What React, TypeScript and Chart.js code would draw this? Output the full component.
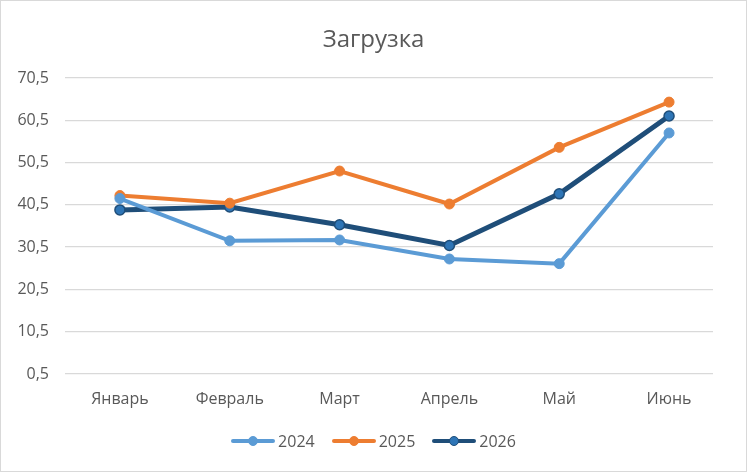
import React, { useEffect, useRef } from "react";
import Chart from "chart.js/auto";

const months = ["Январь", "Февраль", "Март", "Апрель", "Май", "Июнь"];
const load2024 = [42.0, 32.0, 32.2, 27.7, 26.6, 57.5];
const load2025 = [42.7, 40.9, 48.5, 40.7, 54.1, 64.8];
const load2026 = [39.3, 40.0, 35.8, 30.9, 43.1, 61.5];
const yMin = 0.5;
const yMax = 70.5;
const yStep = 10;

const FONT = "'Open Sans', sans-serif";
const TEXT = "#595959";

const legendItems = [
  { label: "2024", line: "#5B9BD5", dot: "#5B9BD5", ring: "#5B9BD5" },
  { label: "2025", line: "#ED7D31", dot: "#ED7D31", ring: "#ED7D31" },
  { label: "2026", line: "#1F4E79", dot: "#2E75B6", ring: "#1F4E79" },
];

// months are placed by index on a linear x scale
const toPoints = (vals: number[]) => vals.map((y, i) => ({ x: i, y }));

const App = () => {
  const canvasRef = useRef<HTMLCanvasElement>(null);

  useEffect(() => {
    const ctx = canvasRef.current?.getContext("2d");
    if (!ctx) return;

    const chart = new Chart(ctx, {
      type: "line",
      data: {
        datasets: [
          {
            label: "2024",
            data: toPoints(load2024),
            borderColor: "#5B9BD5",
            backgroundColor: "#5B9BD5",
            pointBackgroundColor: "#5B9BD5",
            pointBorderColor: "#5B9BD5",
            borderWidth: 4,
            pointRadius: 5,
            pointBorderWidth: 1,
          },
          {
            label: "2025",
            data: toPoints(load2025),
            borderColor: "#ED7D31",
            backgroundColor: "#ED7D31",
            pointBackgroundColor: "#ED7D31",
            pointBorderColor: "#ED7D31",
            borderWidth: 4,
            pointRadius: 5,
            pointBorderWidth: 1,
          },
          {
            label: "2026",
            data: toPoints(load2026),
            borderColor: "#1F4E79",
            backgroundColor: "#2E75B6",
            pointBackgroundColor: "#2E75B6",
            pointBorderColor: "#1F4E79",
            borderWidth: 5,
            pointRadius: 5,
            pointBorderWidth: 1.5,
          },
        ],
      },
      options: {
        animation: false,
        responsive: false,
        maintainAspectRatio: false,
        layout: { padding: { left: 0, right: 33, top: 77, bottom: 57 } },
        plugins: {
          legend: { display: false },
          tooltip: { enabled: false },
          title: { display: false },
        },
        scales: {
          x: {
            type: "linear",
            min: -0.5,
            max: 5.4,
            grid: { display: false, drawTicks: false },
            border: { display: false },
            afterBuildTicks: (s: any) => {
              s.ticks = months.map((_, i) => ({ value: i }));
            },
            afterFit: (s: any) => {
              s.height = 40;
            },
            ticks: {
              color: TEXT,
              font: { family: FONT, size: 16 },
              padding: 16,
              maxRotation: 0,
              autoSkip: false,
              callback: (v: any) => months[Math.round(Number(v))] ?? "",
            },
          },
          y: {
            min: yMin,
            max: yMax,
            grid: { color: "#d9d9d9", lineWidth: 1.3, drawTicks: false },
            border: { display: false },
            afterFit: (s: any) => {
              s.width = 64;
            },
            ticks: {
              stepSize: yStep,
              color: TEXT,
              font: { family: FONT, size: 16 },
              padding: 16,
              callback: (v: any) => Number(v).toFixed(1).replace(".", ","),
            },
          },
        },
      },
    });

    return () => chart.destroy();
  }, []);

  return (
    <div
      style={{
        position: "fixed",
        left: 0,
        top: 0,
        width: 747,
        height: 472,
        boxSizing: "border-box",
        border: "1px solid #d9d9d9",
        background: "#fff",
        overflow: "hidden",
      }}
    >
      <div
        style={{
          position: "absolute",
          left: 0,
          right: 0,
          top: 22,
          textAlign: "center",
          fontFamily: FONT,
          fontSize: 24,
          lineHeight: "29px",
          color: TEXT,
        }}
      >
        Загрузка
      </div>
      <canvas
        ref={canvasRef}
        width={745}
        height={470}
        style={{ width: 745, height: 470, display: "block" }}
      />
      <div
        style={{
          position: "absolute",
          left: 0,
          right: 0,
          top: 430,
          display: "flex",
          justifyContent: "center",
          gap: 17,
          fontFamily: FONT,
          fontSize: 16,
          color: TEXT,
          lineHeight: "20px",
        }}
      >
        {legendItems.map((it) => (
          <div key={it.label} style={{ display: "flex", alignItems: "center" }}>
            <div style={{ position: "relative", width: 44, height: 10, marginRight: 3 }}>
              <div
                style={{
                  position: "absolute",
                  left: 0,
                  right: 0,
                  top: 3,
                  height: 4,
                  borderRadius: 2,
                  background: it.line,
                }}
              />
              <div
                style={{
                  position: "absolute",
                  left: 17,
                  top: 0,
                  width: 10,
                  height: 10,
                  boxSizing: "border-box",
                  borderRadius: "50%",
                  background: it.dot,
                  border: `1.5px solid ${it.ring}`,
                }}
              />
            </div>
            <span>{it.label}</span>
          </div>
        ))}
      </div>
    </div>
  );
};

export default App;
